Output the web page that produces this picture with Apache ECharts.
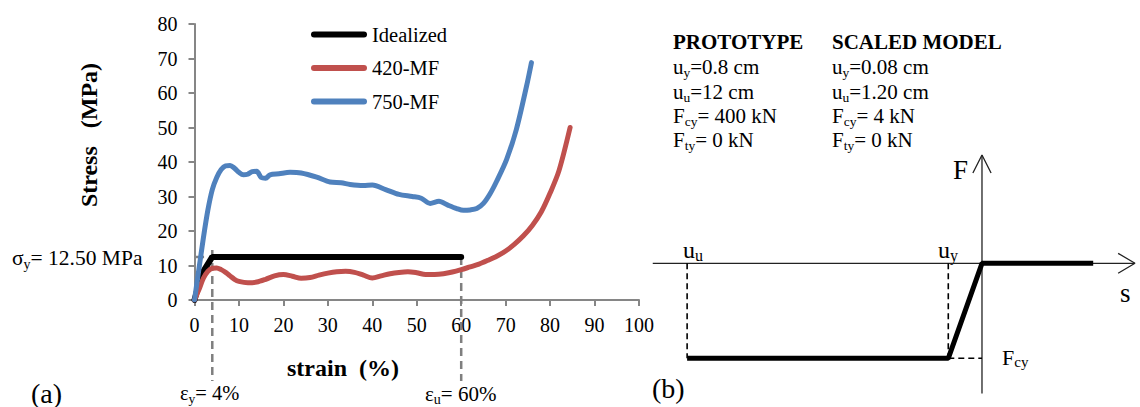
<!DOCTYPE html>
<html>
<head>
<meta charset="utf-8">
<script src="https://cdn.jsdelivr.net/npm/echarts@6/dist/echarts.min.js"></script>
<style>
html, body { margin: 0; padding: 0; background: #fff; }
#chart { width: 1140px; height: 407px; }
</style>
</head>
<body>
<div id="chart"></div>
<script>
// (a) stress-strain curves
const idealStrain = [0, 1.6, 4, 60];
const idealStress = [0, 7.5, 12.5, 12.5];

const mf420Strain = [0, 1, 2, 3, 4, 5, 6, 7, 8, 9, 10, 12, 14, 16, 18, 20, 22, 24, 26, 28, 30, 32, 34, 36, 38, 40,
    42, 44, 46, 48, 50, 52, 54, 56, 58, 60, 62, 64, 66, 68, 70, 72, 74, 76, 78, 80, 82, 84.5];
const mf420Stress = [0, 3, 6.3, 8.3, 9.2, 9.3, 8.8, 8.0, 7.0, 6.0, 5.4, 5.0, 5.2, 6.0, 7.0, 7.4, 6.9, 6.3, 6.5, 7.2, 7.8, 8.2, 8.3, 8.0, 7.2, 6.4,
    7.0, 7.6, 8.0, 8.2, 7.9, 7.4, 7.4, 7.6, 8.1, 8.8, 9.6, 10.4, 11.5, 12.7, 14.2, 16.2, 18.6, 21.6, 25.5, 31, 37.5, 50];

const mf750Strain = [0, 1, 2, 3, 4, 5, 6, 7, 8, 9, 10, 11, 12, 13, 14, 15, 16, 17, 19, 21.5, 24, 27.5, 30.5, 33, 35, 38, 40,
    43, 46, 49, 51, 53, 55, 57, 59, 60.5, 62, 63.5, 65, 66.5, 68, 70.2, 72.4, 74.7, 75.8];
const mf750Stress = [0, 9, 18, 26, 32, 35.5, 37.8, 38.9, 39.0, 38.2, 37, 36.3, 36.5, 37.2, 37.3, 35.5, 35.3, 36.3, 36.6, 37.0, 36.8, 35.6, 34.2, 34.0, 33.5, 33.2, 33.3,
    32.0, 30.6, 30.0, 29.5, 28.0, 28.6, 27.5, 26.5, 26.0, 26.1, 26.5, 28, 30.8, 34.5, 40.7, 49.4, 62, 68.8];

const yieldStress = 12.5;
const yieldStrain = 4;
const ultStrain = 60;

// (b) schematic F-s law (not to scale)
const schemS = [-8.75, -1, 0, 3.3];
const schemF = [-1, -1, 0, 0];

const protoRows = [['u', 'y', '=0.8 cm'], ['u', 'u', '=12 cm'], ['F', 'cy', '= 400 kN'], ['F', 'ty', '= 0 kN']];
const modelRows = [['u', 'y', '=0.08 cm'], ['u', 'u', '=1.20 cm'], ['F', 'cy', '= 4 kN'], ['F', 'ty', '= 0 kN']];

const serif = 'Liberation Serif, Times New Roman, serif';
const axisGray = '#868686';
const dashGray = '#7f7f7f';
// capsule shape for legend keys
const legendKey = 'path://M3,0 L53,0 A3,3 0 0 1 53,6 L3,6 A3,3 0 0 1 3,0 Z';

function pairs(xs, ys) {
    return xs.map(function (x, i) { return [x, ys[i]]; });
}

function richStyle(size, subSize, lh, subLh) {
    return {
        m: { fontSize: size, fontFamily: serif, fill: '#000', lineHeight: lh, verticalAlign: 'middle' },
        s: { fontSize: subSize, fontFamily: serif, fill: '#000', lineHeight: subLh, verticalAlign: 'bottom' }
    };
}

function subText(x, y, main, sub, rest, size, subSize, lh, subLh) {
    return {
        type: 'text', x: x, y: y,
        style: {
            text: '{m|' + main + '}{s|' + sub + '}{m|' + rest + '}',
            rich: richStyle(size, subSize, lh, subLh),
            align: 'left', verticalAlign: 'middle'
        }
    };
}

function plainText(x, y, text, size, weight, align) {
    return {
        type: 'text', x: x, y: y,
        style: {
            text: text, fill: '#000', fontSize: size, fontFamily: serif,
            fontWeight: weight || 'normal', align: align || 'left', verticalAlign: 'middle'
        }
    };
}

function thinLine(name, data, opts) {
    return Object.assign({
        name: name, type: 'line', xAxisIndex: 1, yAxisIndex: 1,
        data: data, symbol: 'none', clip: false, silent: true,
        lineStyle: { color: '#222', width: 1.3 }
    }, opts || {});
}

let graphics = [
    plainText(31, 393, '(a)', 28),
    plainText(652, 388, '(b)', 28),
    {
        type: 'text', x: 89, y: 135, rotation: Math.PI / 2,
        style: {
            text: 'Stress\u00a0\u00a0\u00a0(MPa)', fill: '#000', fontSize: 24, fontWeight: 'bold',
            fontFamily: serif, align: 'center', verticalAlign: 'middle'
        }
    },
    plainText(343, 368, 'strain\u00a0\u00a0(%)', 24, 'bold', 'center'),
    subText(12, 258, 'σ', 'y', '= 12.50 MPa', 21.5, 14, 26, 14),
    subText(180, 393, 'ε', 'y', '= 4%', 20.5, 13.5, 25, 13.5),
    subText(425, 394, 'ε', 'u', '= 60%', 21, 14, 25, 14),
    plainText(673, 42, 'PROTOTYPE', 21, 'bold'),
    plainText(832, 42, 'SCALED MODEL', 21, 'bold'),
    subText(683, 250, 'u', 'u', '', 24, 16, 26, 20),
    subText(938, 250, 'u', 'y', '', 24, 16, 26, 20),
    plainText(953, 170, 'F', 27),
    plainText(1120, 293, 's', 27),
    subText(1002, 357, 'F', 'cy', '', 22, 15, 24, 17)
];
const rowY = [67, 91.5, 115.5, 140];
protoRows.forEach(function (r, i) {
    graphics.push(subText(673, rowY[i], r[0], r[1], r[2], 21, 13.5, 25, 13.5));
});
modelRows.forEach(function (r, i) {
    graphics.push(subText(832, rowY[i], r[0], r[1], r[2], 21, 13.5, 25, 13.5));
});

let chart = echarts.init(document.getElementById('chart'), null, { renderer: 'svg' });

let option = {
    animation: false,
    backgroundColor: '#fff',
    legend: {
        orient: 'vertical',
        left: 306,
        top: 19,
        itemWidth: 56,
        itemHeight: 6,
        itemGap: 12.5,
        icon: legendKey,
        data: ['Idealized', '420-MF', '750-MF'],
        textStyle: { fontFamily: serif, fontSize: 20.5, color: '#000', lineHeight: 20 }
    },
    grid: [
        { left: 194.5, top: 24, width: 444.5, height: 276 },
        { left: 645, top: 149.3, width: 492, height: 256.5 }
    ],
    xAxis: [
        {
            type: 'value', gridIndex: 0, min: 0, max: 100, interval: 10,
            axisLine: { show: true, lineStyle: { color: axisGray, width: 2 } },
            axisTick: { show: true, length: 6, lineStyle: { color: axisGray, width: 2 } },
            axisLabel: { margin: 15, fontFamily: serif, fontSize: 20, color: '#000' },
            splitLine: { show: false }
        },
        { type: 'value', gridIndex: 1, min: -10, max: 4.6, show: false, splitLine: { show: false } }
    ],
    yAxis: [
        {
            type: 'value', gridIndex: 0, min: 0, max: 80, interval: 10,
            axisLine: { show: true, lineStyle: { color: axisGray, width: 2 } },
            axisTick: { show: true, length: 6, lineStyle: { color: axisGray, width: 2 } },
            axisLabel: { margin: 17, fontFamily: serif, fontSize: 20, color: '#000' },
            splitLine: { show: false }
        },
        { type: 'value', gridIndex: 1, min: -1.5, max: 1.2, show: false, splitLine: { show: false } }
    ],
    graphic: graphics,
    series: [
        // dashed guides for yield / ultimate
        {
            name: 'sigmaY', type: 'line', symbol: 'none', clip: false, silent: true, z: 1,
            data: [[-5.5, yieldStress], [yieldStrain, yieldStress]],
            lineStyle: { color: dashGray, width: 2.5, type: [8, 5] }
        },
        {
            name: 'epsY', type: 'line', symbol: 'none', clip: false, silent: true, z: 1,
            data: [[yieldStrain, yieldStress + 2], [yieldStrain, -23.5]],
            lineStyle: { color: dashGray, width: 2.5, type: [8, 5] }
        },
        {
            name: 'epsU', type: 'line', symbol: 'none', clip: false, silent: true, z: 1,
            data: [[ultStrain, yieldStress], [ultStrain, -23.5]],
            lineStyle: { color: dashGray, width: 2.5, type: [8, 5] }
        },
        {
            name: 'Idealized', type: 'line', symbol: 'none', color: '#000',
            data: pairs(idealStrain, idealStress),
            lineStyle: { color: '#000', width: 6, cap: 'round' }
        },
        {
            name: '420-MF', type: 'line', symbol: 'none', smooth: 0.3, color: '#C0504D',
            data: pairs(mf420Strain, mf420Stress),
            lineStyle: { color: '#C0504D', width: 5, cap: 'round' }
        },
        {
            name: '750-MF', type: 'line', symbol: 'none', smooth: 0.3, color: '#4F81BD',
            data: pairs(mf750Strain, mf750Stress),
            lineStyle: { color: '#4F81BD', width: 5, cap: 'round' }
        },
        // (b) schematic
        thinLine('sAxis', [[-9.77, 0], [4.54, 0]]),
        thinLine('fAxis', [[0, -1.37], [0, 1.14]]),
        thinLine('sArrow', [[4.04, 0.105], [4.54, 0], [4.04, -0.105]]),
        thinLine('fArrow', [[-0.27, 0.95], [0, 1.14], [0.27, 0.95]]),
        thinLine('uuDash', [[schemS[0], 0], [schemS[0], schemF[0]]], { lineStyle: { color: '#000', width: 1.6, type: [6, 4] } }),
        thinLine('uyDash', [[schemS[1], 0], [schemS[1], schemF[1]]], { lineStyle: { color: '#000', width: 1.6, type: [6, 4] } }),
        thinLine('fcyDash', [[schemS[1], schemF[1]], [0, schemF[1]]], { lineStyle: { color: '#000', width: 1.6, type: [6, 4] } }),
        thinLine('law', pairs(schemS, schemF), { lineStyle: { color: '#000', width: 5 }, z: 3 })
    ]
};

chart.setOption(option);
</script>
</body>
</html>
